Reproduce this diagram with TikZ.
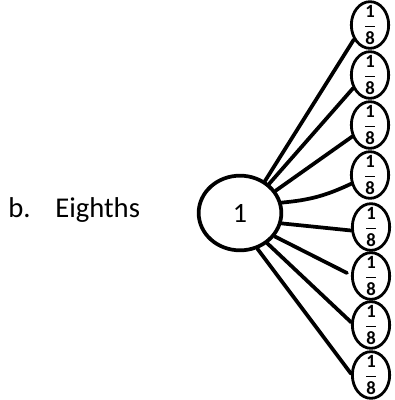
\documentclass[tikz,border=0pt]{standalone}
\usepackage{fontspec}
\setmainfont{Carlito}
\usetikzlibrary{shapes.geometric}
\tikzset{
  eighth/.style={ellipse, draw, line width=2.1pt, minimum width=28pt, minimum height=35pt, inner xsep=0pt, inner ysep=-5pt, font=\fontsize{14}{16}\selectfont},
  spoke/.style={line width=2.8pt, line cap=round},
  bigtext/.style={inner sep=0pt, font=\fontsize{21.5}{25}\selectfont},
}
\newcommand{\eighthfrac}{$\displaystyle\frac{\textbf{1}}{\textbf{8}}$}

\begin{document}
\begin{tikzpicture}[x=0.75pt, y=-0.75pt]
		\useasboundingbox (0,0) rectangle (395,400);
		%%%%% START %%%%%
		
		\node[bigtext, anchor=base west] (item) at (8,217) {b.};
		\node[bigtext, anchor=base west] (name) at (55,217) {Eighths};
		
		\node[ellipse, draw, line width=2.8pt, minimum width=62pt, minimum height=56pt, inner sep=0pt, font=\fontsize{21}{24}\selectfont] (whole) at (240,213) {1};
		
		\node[eighth] (e1) at (370,25) {\eighthfrac};
		\node[eighth] (e2) at (370,75) {\eighthfrac};
		\node[eighth] (e3) at (370,125) {\eighthfrac};
		\node[eighth] (e4) at (370,175) {\eighthfrac};
		\node[eighth] (e5) at (371,227) {\eighthfrac};
		\node[eighth] (e6) at (371,276) {\eighthfrac};
		\node[eighth] (e7) at (371,325) {\eighthfrac};
		\node[eighth] (e8) at (371,375) {\eighthfrac};
		
		\coordinate (loose) at (347,273);
		
		\draw[spoke] (whole.52) -- (e1.222);
		\draw[spoke] (whole.45) -- (e2.218);
		\draw[spoke] (whole.32) -- (e3.213);
		\draw[spoke] (whole.14) to[bend right=10] (e4.205);
		\draw[spoke] (whole.-14) -- (e5.190);
		\draw[spoke] (whole.-34) -- (loose);
		\draw[spoke] (whole.-48) -- (e7.172);
		\draw[spoke] (whole.-64) -- (e8.176);
		
		%%%%% END %%%%%
\end{tikzpicture}
\end{document}
